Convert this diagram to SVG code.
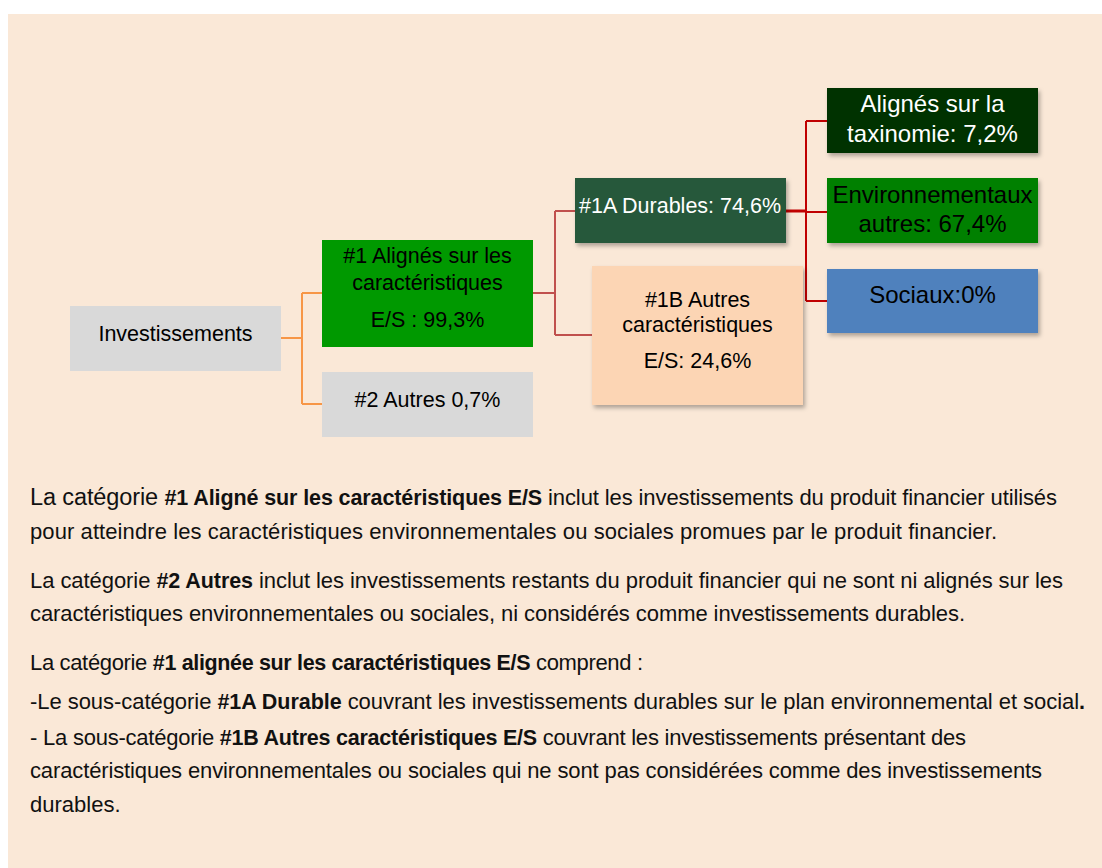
<svg xmlns="http://www.w3.org/2000/svg" width="1102" height="868" viewBox="0 0 1102 868">
<defs>
<filter id="sh" x="-10%" y="-10%" width="130%" height="140%">
<feDropShadow dx="2" dy="3" stdDeviation="2" flood-color="#000" flood-opacity="0.3"/>
</filter>
<style>
text{font-family:"Liberation Sans",Arial,sans-serif;}
.n{font-size:21.5px;fill:#000;text-anchor:middle;}
.nr{font-size:24px;fill:#000;text-anchor:middle;}
.w{fill:#fff;}
.body{font-size:22px;fill:#111;}
.b{font-weight:bold;font-size:21.5px;}
.big{font-size:23.5px;}
.c1{fill:none;stroke:#F79646;stroke-width:2;}
.c2{fill:none;stroke:#C0504D;stroke-width:2;}
.c3{fill:none;stroke:#C00000;stroke-width:2;}
</style>
</defs>
<rect x="0" y="0" width="1102" height="868" fill="#fff"/>
<rect x="8" y="14" width="1094" height="854" fill="#FAE8D7"/>

<g id="connectors">
<path class="c1" d="M281,338 H302 M302,293 V404 M302,293 H322 M302,404 H322"/>
<path class="c2" d="M533,293 H555 M555,211 V335 M555,211 H575 M555,335 H592"/>
<path class="c3" d="M786,211 H806" style="stroke-width:3"/>
<path class="c3" d="M806,121 V301 M806,121 H827 M806,212 H827 M806,301 H827"/>
</g>

<g id="investissements">
<rect x="70" y="306" width="211" height="65" fill="#D9D9D9"/>
<text class="n" x="175.5" y="341">Investissements</text>
</g>

<g id="n1">
<rect x="322" y="240" width="211" height="107" fill="#009900"/>
<text class="n" x="427.5" y="263">#1 Alignés sur les</text>
<text class="n" x="427.5" y="290">caractéristiques</text>
<text class="n" x="427.5" y="327">E/S : 99,3%</text>
</g>

<g id="n2">
<rect x="322" y="372" width="211" height="65" fill="#D9D9D9"/>
<text class="n" x="427.5" y="407">#2 Autres 0,7%</text>
</g>

<g id="n1a">
<rect x="575" y="178" width="211" height="65" fill="#26583B" filter="url(#sh)"/>
<text class="n w" x="680" y="213">#1A Durables: 74,6%</text>
</g>

<g id="n1b">
<rect x="592" y="266" width="211" height="139" fill="#FCD5B4" filter="url(#sh)"/>
<text class="n" x="697.5" y="307">#1B Autres</text>
<text class="n" x="697.5" y="332">caractéristiques</text>
<text class="n" x="697.5" y="368">E/S: 24,6%</text>
</g>

<g id="taxo">
<rect x="827" y="88" width="211" height="65" fill="#003300" filter="url(#sh)"/>
<text class="nr w" x="932.5" y="112">Alignés sur la</text>
<text class="nr w" x="932.5" y="142">taxinomie: 7,2%</text>
</g>

<g id="env">
<rect x="827" y="178" width="211" height="65" fill="#008000" filter="url(#sh)"/>
<text class="nr" x="932.5" y="203">Environnementaux</text>
<text class="nr" x="932.5" y="232">autres: 67,4%</text>
</g>

<g id="soc">
<rect x="827" y="269" width="211" height="64" fill="#4F81BD" filter="url(#sh)"/>
<text class="nr" x="932.5" y="303">Sociaux:0%</text>
</g>

<g id="texte">
<text class="body" x="30" y="505" textLength="1027" lengthAdjust="spacing"><tspan class="big">La catégorie </tspan><tspan class="b">#1 Aligné sur les caractéristiques E/S</tspan> inclut les investissements du produit financier utilisés</text>
<text class="body" x="30" y="539" textLength="967" lengthAdjust="spacing">pour atteindre les caractéristiques environnementales ou sociales promues par le produit financier.</text>
<text class="body" x="30" y="588" textLength="1033" lengthAdjust="spacing">La catégorie <tspan class="b">#2 Autres</tspan> inclut les investissements restants du produit financier qui ne sont ni alignés sur les</text>
<text class="body" x="30" y="621" textLength="935" lengthAdjust="spacing">caractéristiques environnementales ou sociales, ni considérés comme investissements durables.</text>
<text class="body" x="30" y="670" textLength="613" lengthAdjust="spacing">La catégorie <tspan class="b">#1 alignée sur les caractéristiques E/S</tspan> comprend :</text>
<text class="body" x="30" y="709" textLength="1055" lengthAdjust="spacing">-Le sous-catégorie <tspan class="b">#1A Durable</tspan> couvrant les investissements durables sur le plan environnemental et social<tspan class="b">.</tspan></text>
<text class="body" x="30" y="745" textLength="936" lengthAdjust="spacing">- La sous-catégorie <tspan class="b">#1B Autres caractéristiques E/S</tspan> couvrant les investissements présentant des</text>
<text class="body" x="30" y="778" textLength="1012" lengthAdjust="spacing">caractéristiques environnementales ou sociales qui ne sont pas considérées comme des investissements</text>
<text class="body" x="30" y="812">durables.</text>
</g>
</svg>
